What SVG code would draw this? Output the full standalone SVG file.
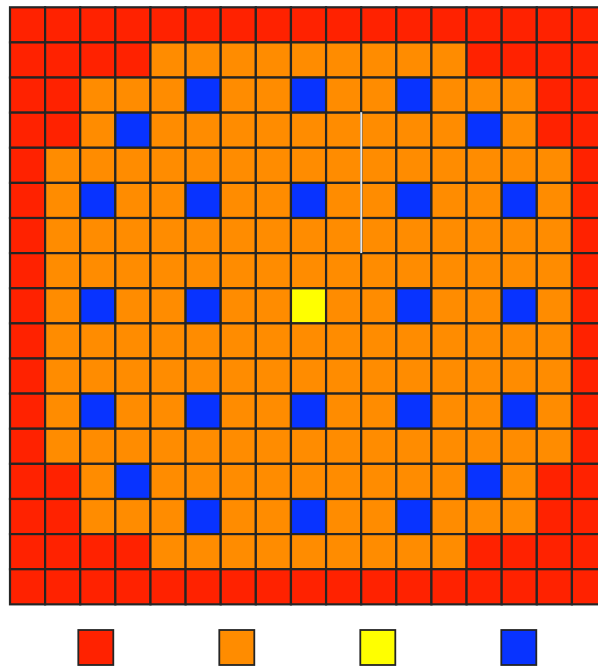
<svg xmlns="http://www.w3.org/2000/svg" xmlns:xlink="http://www.w3.org/1999/xlink" width="598" height="666" viewBox="0 0 598 666">
<style>
use { stroke: #252525; stroke-width: 2.2; }
.lg { stroke: #252525; stroke-width: 1.8; }
.r { fill: #FF2200; }
.o { fill: #FF8C00; }
.b { fill: #0833FF; }
.y { fill: #FFFF00; }
</style>
<defs>
<rect id="c" width="35.12" height="35.12"/>
</defs>
<rect width="598" height="666" fill="#ffffff"/>
<g id="grid">
<g id="row0" transform="translate(0,7.3)">
<use href="#c" x="10" class="r"/><use href="#c" x="45.12" class="r"/><use href="#c" x="80.24" class="r"/><use href="#c" x="115.36" class="r"/><use href="#c" x="150.48" class="r"/><use href="#c" x="185.6" class="r"/><use href="#c" x="220.72" class="r"/><use href="#c" x="255.84" class="r"/><use href="#c" x="290.96" class="r"/><use href="#c" x="326.08" class="r"/><use href="#c" x="361.2" class="r"/><use href="#c" x="396.32" class="r"/><use href="#c" x="431.44" class="r"/><use href="#c" x="466.56" class="r"/><use href="#c" x="501.68" class="r"/><use href="#c" x="536.8" class="r"/><use href="#c" x="571.92" class="r"/>
</g>
<g id="row1" transform="translate(0,42.42)">
<use href="#c" x="10" class="r"/><use href="#c" x="45.12" class="r"/><use href="#c" x="80.24" class="r"/><use href="#c" x="115.36" class="r"/><use href="#c" x="150.48" class="o"/><use href="#c" x="185.6" class="o"/><use href="#c" x="220.72" class="o"/><use href="#c" x="255.84" class="o"/><use href="#c" x="290.96" class="o"/><use href="#c" x="326.08" class="o"/><use href="#c" x="361.2" class="o"/><use href="#c" x="396.32" class="o"/><use href="#c" x="431.44" class="o"/><use href="#c" x="466.56" class="r"/><use href="#c" x="501.68" class="r"/><use href="#c" x="536.8" class="r"/><use href="#c" x="571.92" class="r"/>
</g>
<g id="row2" transform="translate(0,77.54)">
<use href="#c" x="10" class="r"/><use href="#c" x="45.12" class="r"/><use href="#c" x="80.24" class="o"/><use href="#c" x="115.36" class="o"/><use href="#c" x="150.48" class="o"/><use href="#c" x="185.6" class="b"/><use href="#c" x="220.72" class="o"/><use href="#c" x="255.84" class="o"/><use href="#c" x="290.96" class="b"/><use href="#c" x="326.08" class="o"/><use href="#c" x="361.2" class="o"/><use href="#c" x="396.32" class="b"/><use href="#c" x="431.44" class="o"/><use href="#c" x="466.56" class="o"/><use href="#c" x="501.68" class="o"/><use href="#c" x="536.8" class="r"/><use href="#c" x="571.92" class="r"/>
</g>
<g id="row3" transform="translate(0,112.66)">
<use href="#c" x="10" class="r"/><use href="#c" x="45.12" class="r"/><use href="#c" x="80.24" class="o"/><use href="#c" x="115.36" class="b"/><use href="#c" x="150.48" class="o"/><use href="#c" x="185.6" class="o"/><use href="#c" x="220.72" class="o"/><use href="#c" x="255.84" class="o"/><use href="#c" x="290.96" class="o"/><use href="#c" x="326.08" class="o"/><use href="#c" x="361.2" class="o"/><use href="#c" x="396.32" class="o"/><use href="#c" x="431.44" class="o"/><use href="#c" x="466.56" class="b"/><use href="#c" x="501.68" class="o"/><use href="#c" x="536.8" class="r"/><use href="#c" x="571.92" class="r"/>
</g>
<g id="row4" transform="translate(0,147.78)">
<use href="#c" x="10" class="r"/><use href="#c" x="45.12" class="o"/><use href="#c" x="80.24" class="o"/><use href="#c" x="115.36" class="o"/><use href="#c" x="150.48" class="o"/><use href="#c" x="185.6" class="o"/><use href="#c" x="220.72" class="o"/><use href="#c" x="255.84" class="o"/><use href="#c" x="290.96" class="o"/><use href="#c" x="326.08" class="o"/><use href="#c" x="361.2" class="o"/><use href="#c" x="396.32" class="o"/><use href="#c" x="431.44" class="o"/><use href="#c" x="466.56" class="o"/><use href="#c" x="501.68" class="o"/><use href="#c" x="536.8" class="o"/><use href="#c" x="571.92" class="r"/>
</g>
<g id="row5" transform="translate(0,182.9)">
<use href="#c" x="10" class="r"/><use href="#c" x="45.12" class="o"/><use href="#c" x="80.24" class="b"/><use href="#c" x="115.36" class="o"/><use href="#c" x="150.48" class="o"/><use href="#c" x="185.6" class="b"/><use href="#c" x="220.72" class="o"/><use href="#c" x="255.84" class="o"/><use href="#c" x="290.96" class="b"/><use href="#c" x="326.08" class="o"/><use href="#c" x="361.2" class="o"/><use href="#c" x="396.32" class="b"/><use href="#c" x="431.44" class="o"/><use href="#c" x="466.56" class="o"/><use href="#c" x="501.68" class="b"/><use href="#c" x="536.8" class="o"/><use href="#c" x="571.92" class="r"/>
</g>
<g id="row6" transform="translate(0,218.02)">
<use href="#c" x="10" class="r"/><use href="#c" x="45.12" class="o"/><use href="#c" x="80.24" class="o"/><use href="#c" x="115.36" class="o"/><use href="#c" x="150.48" class="o"/><use href="#c" x="185.6" class="o"/><use href="#c" x="220.72" class="o"/><use href="#c" x="255.84" class="o"/><use href="#c" x="290.96" class="o"/><use href="#c" x="326.08" class="o"/><use href="#c" x="361.2" class="o"/><use href="#c" x="396.32" class="o"/><use href="#c" x="431.44" class="o"/><use href="#c" x="466.56" class="o"/><use href="#c" x="501.68" class="o"/><use href="#c" x="536.8" class="o"/><use href="#c" x="571.92" class="r"/>
</g>
<g id="row7" transform="translate(0,253.14)">
<use href="#c" x="10" class="r"/><use href="#c" x="45.12" class="o"/><use href="#c" x="80.24" class="o"/><use href="#c" x="115.36" class="o"/><use href="#c" x="150.48" class="o"/><use href="#c" x="185.6" class="o"/><use href="#c" x="220.72" class="o"/><use href="#c" x="255.84" class="o"/><use href="#c" x="290.96" class="o"/><use href="#c" x="326.08" class="o"/><use href="#c" x="361.2" class="o"/><use href="#c" x="396.32" class="o"/><use href="#c" x="431.44" class="o"/><use href="#c" x="466.56" class="o"/><use href="#c" x="501.68" class="o"/><use href="#c" x="536.8" class="o"/><use href="#c" x="571.92" class="r"/>
</g>
<g id="row8" transform="translate(0,288.26)">
<use href="#c" x="10" class="r"/><use href="#c" x="45.12" class="o"/><use href="#c" x="80.24" class="b"/><use href="#c" x="115.36" class="o"/><use href="#c" x="150.48" class="o"/><use href="#c" x="185.6" class="b"/><use href="#c" x="220.72" class="o"/><use href="#c" x="255.84" class="o"/><use href="#c" x="290.96" class="y"/><use href="#c" x="326.08" class="o"/><use href="#c" x="361.2" class="o"/><use href="#c" x="396.32" class="b"/><use href="#c" x="431.44" class="o"/><use href="#c" x="466.56" class="o"/><use href="#c" x="501.68" class="b"/><use href="#c" x="536.8" class="o"/><use href="#c" x="571.92" class="r"/>
</g>
<g id="row9" transform="translate(0,323.38)">
<use href="#c" x="10" class="r"/><use href="#c" x="45.12" class="o"/><use href="#c" x="80.24" class="o"/><use href="#c" x="115.36" class="o"/><use href="#c" x="150.48" class="o"/><use href="#c" x="185.6" class="o"/><use href="#c" x="220.72" class="o"/><use href="#c" x="255.84" class="o"/><use href="#c" x="290.96" class="o"/><use href="#c" x="326.08" class="o"/><use href="#c" x="361.2" class="o"/><use href="#c" x="396.32" class="o"/><use href="#c" x="431.44" class="o"/><use href="#c" x="466.56" class="o"/><use href="#c" x="501.68" class="o"/><use href="#c" x="536.8" class="o"/><use href="#c" x="571.92" class="r"/>
</g>
<g id="row10" transform="translate(0,358.5)">
<use href="#c" x="10" class="r"/><use href="#c" x="45.12" class="o"/><use href="#c" x="80.24" class="o"/><use href="#c" x="115.36" class="o"/><use href="#c" x="150.48" class="o"/><use href="#c" x="185.6" class="o"/><use href="#c" x="220.72" class="o"/><use href="#c" x="255.84" class="o"/><use href="#c" x="290.96" class="o"/><use href="#c" x="326.08" class="o"/><use href="#c" x="361.2" class="o"/><use href="#c" x="396.32" class="o"/><use href="#c" x="431.44" class="o"/><use href="#c" x="466.56" class="o"/><use href="#c" x="501.68" class="o"/><use href="#c" x="536.8" class="o"/><use href="#c" x="571.92" class="r"/>
</g>
<g id="row11" transform="translate(0,393.62)">
<use href="#c" x="10" class="r"/><use href="#c" x="45.12" class="o"/><use href="#c" x="80.24" class="b"/><use href="#c" x="115.36" class="o"/><use href="#c" x="150.48" class="o"/><use href="#c" x="185.6" class="b"/><use href="#c" x="220.72" class="o"/><use href="#c" x="255.84" class="o"/><use href="#c" x="290.96" class="b"/><use href="#c" x="326.08" class="o"/><use href="#c" x="361.2" class="o"/><use href="#c" x="396.32" class="b"/><use href="#c" x="431.44" class="o"/><use href="#c" x="466.56" class="o"/><use href="#c" x="501.68" class="b"/><use href="#c" x="536.8" class="o"/><use href="#c" x="571.92" class="r"/>
</g>
<g id="row12" transform="translate(0,428.74)">
<use href="#c" x="10" class="r"/><use href="#c" x="45.12" class="o"/><use href="#c" x="80.24" class="o"/><use href="#c" x="115.36" class="o"/><use href="#c" x="150.48" class="o"/><use href="#c" x="185.6" class="o"/><use href="#c" x="220.72" class="o"/><use href="#c" x="255.84" class="o"/><use href="#c" x="290.96" class="o"/><use href="#c" x="326.08" class="o"/><use href="#c" x="361.2" class="o"/><use href="#c" x="396.32" class="o"/><use href="#c" x="431.44" class="o"/><use href="#c" x="466.56" class="o"/><use href="#c" x="501.68" class="o"/><use href="#c" x="536.8" class="o"/><use href="#c" x="571.92" class="r"/>
</g>
<g id="row13" transform="translate(0,463.86)">
<use href="#c" x="10" class="r"/><use href="#c" x="45.12" class="r"/><use href="#c" x="80.24" class="o"/><use href="#c" x="115.36" class="b"/><use href="#c" x="150.48" class="o"/><use href="#c" x="185.6" class="o"/><use href="#c" x="220.72" class="o"/><use href="#c" x="255.84" class="o"/><use href="#c" x="290.96" class="o"/><use href="#c" x="326.08" class="o"/><use href="#c" x="361.2" class="o"/><use href="#c" x="396.32" class="o"/><use href="#c" x="431.44" class="o"/><use href="#c" x="466.56" class="b"/><use href="#c" x="501.68" class="o"/><use href="#c" x="536.8" class="r"/><use href="#c" x="571.92" class="r"/>
</g>
<g id="row14" transform="translate(0,498.98)">
<use href="#c" x="10" class="r"/><use href="#c" x="45.12" class="r"/><use href="#c" x="80.24" class="o"/><use href="#c" x="115.36" class="o"/><use href="#c" x="150.48" class="o"/><use href="#c" x="185.6" class="b"/><use href="#c" x="220.72" class="o"/><use href="#c" x="255.84" class="o"/><use href="#c" x="290.96" class="b"/><use href="#c" x="326.08" class="o"/><use href="#c" x="361.2" class="o"/><use href="#c" x="396.32" class="b"/><use href="#c" x="431.44" class="o"/><use href="#c" x="466.56" class="o"/><use href="#c" x="501.68" class="o"/><use href="#c" x="536.8" class="r"/><use href="#c" x="571.92" class="r"/>
</g>
<g id="row15" transform="translate(0,534.1)">
<use href="#c" x="10" class="r"/><use href="#c" x="45.12" class="r"/><use href="#c" x="80.24" class="r"/><use href="#c" x="115.36" class="r"/><use href="#c" x="150.48" class="o"/><use href="#c" x="185.6" class="o"/><use href="#c" x="220.72" class="o"/><use href="#c" x="255.84" class="o"/><use href="#c" x="290.96" class="o"/><use href="#c" x="326.08" class="o"/><use href="#c" x="361.2" class="o"/><use href="#c" x="396.32" class="o"/><use href="#c" x="431.44" class="o"/><use href="#c" x="466.56" class="r"/><use href="#c" x="501.68" class="r"/><use href="#c" x="536.8" class="r"/><use href="#c" x="571.92" class="r"/>
</g>
<g id="row16" transform="translate(0,569.22)">
<use href="#c" x="10" class="r"/><use href="#c" x="45.12" class="r"/><use href="#c" x="80.24" class="r"/><use href="#c" x="115.36" class="r"/><use href="#c" x="150.48" class="r"/><use href="#c" x="185.6" class="r"/><use href="#c" x="220.72" class="r"/><use href="#c" x="255.84" class="r"/><use href="#c" x="290.96" class="r"/><use href="#c" x="326.08" class="r"/><use href="#c" x="361.2" class="r"/><use href="#c" x="396.32" class="r"/><use href="#c" x="431.44" class="r"/><use href="#c" x="466.56" class="r"/><use href="#c" x="501.68" class="r"/><use href="#c" x="536.8" class="r"/><use href="#c" x="571.92" class="r"/>
</g>
</g>
<g id="wall">
<line x1="361.2" y1="112.2" x2="361.2" y2="253.1" stroke="#888" stroke-width="2.4"/>
<line x1="361.2" y1="112.2" x2="361.2" y2="253.1" stroke="#ffffff" stroke-width="1.2"/>
</g>
<g id="legend">
<rect class="lg r" x="78.3" y="630" width="35" height="35"/>
<rect class="lg o" x="219.3" y="630" width="35" height="35"/>
<rect class="lg y" x="360.3" y="630" width="35" height="35"/>
<rect class="lg b" x="501.3" y="630" width="35" height="35"/>
</g>
</svg>
